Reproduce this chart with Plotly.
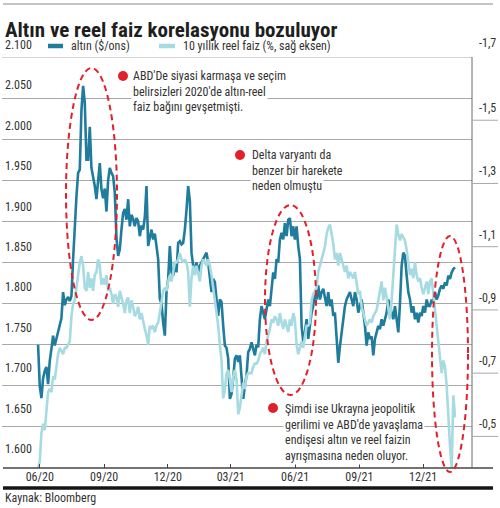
import plotly.graph_objects as go
import pandas as pd

# ---------------- data ----------------
START_DATE = "2020-05-29 14:00"
END_DATE = "2022-01-15 17:00"

gold = [
    1750, 1700, 1685, 1709, 1718, 1723, 1702, 1730, 1745, 1761,
    1749, 1758, 1768, 1775, 1782, 1814, 1798, 1805, 1808, 1803,
    1809, 1854, 1900, 1930, 1959, 1963, 2035, 2065, 2045, 1975,
    1975, 2015, 1965, 1955, 1943, 1927, 1950, 1971, 1939, 1928,
    1940, 1912, 1950, 1965, 1959, 1955, 1935, 1880, 1858, 1866,
    1890, 1910, 1915, 1902, 1927, 1894, 1908, 1903, 1894, 1904,
    1900, 1882, 1895, 1890, 1905, 1943, 1870, 1882, 1890, 1878,
    1885, 1870, 1854, 1806, 1800, 1777, 1761, 1814, 1830, 1870,
    1838, 1834, 1850, 1838, 1874, 1876, 1872, 1874, 1890, 1914,
    1943, 1925, 1862, 1846, 1842, 1850, 1838, 1846, 1850, 1854,
    1858, 1862, 1850, 1834, 1814, 1830, 1826, 1805, 1785, 1805,
    1802, 1773, 1749, 1746, 1733, 1684, 1690, 1709, 1733, 1737,
    1729, 1737, 1709, 1684, 1700, 1713, 1741, 1745, 1753, 1745,
    1737, 1750, 1747, 1781, 1797, 1789, 1781, 1793, 1805, 1797,
    1814, 1838, 1830, 1854, 1850, 1878, 1886, 1878, 1898, 1882,
    1902, 1904, 1882, 1894, 1878, 1894, 1870, 1854, 1773, 1753,
    1765, 1781, 1757, 1773, 1789, 1797, 1814, 1805, 1822, 1805,
    1814, 1818, 1805, 1797, 1814, 1797, 1805, 1785, 1789, 1761,
    1728, 1748, 1765, 1777, 1797, 1805, 1810, 1814, 1805, 1797,
    1814, 1805, 1789, 1797, 1805, 1789, 1773, 1749, 1765, 1757,
    1760, 1737, 1757, 1765, 1773, 1769, 1781, 1773, 1781, 1789,
    1805, 1797, 1789, 1781, 1797, 1777, 1765, 1800, 1846, 1862,
    1858, 1834, 1814, 1805, 1789, 1797, 1781, 1789, 1777, 1789,
    1785, 1797, 1789, 1805, 1797, 1797, 1805, 1801, 1814, 1805,
    1810, 1818, 1822, 1818, 1826, 1822, 1834, 1830, 1838, 1842, 1844,
]

real_yield = [
    -0.40, -0.42, -0.51, -0.54, -0.52, -0.58, -0.64, -0.65, -0.64, -0.69,
    -0.68, -0.72, -0.76, -0.78, -0.77, -0.76, -0.78, -0.78, -0.79, -0.80,
    -0.88, -0.92, -0.93, -0.97, -1.01, -1.05, -1.07, -1.04, -0.97, -0.96,
    -1.02, -0.97, -1.00, -0.96, -1.01, -1.02, -1.06, -1.04, -0.98, -1.00,
    -0.98, -1.01, -0.96, -0.97, -0.95, -0.92, -0.95, -0.94, -0.91, -0.96,
    -0.94, -0.92, -0.89, -0.93, -0.94, -0.89, -0.93, -0.91, -0.88, -0.89,
    -0.91, -0.87, -0.89, -0.86, -0.84, -0.82, -0.79, -0.85, -0.84, -0.85,
    -0.83, -0.85, -0.86, -0.89, -0.93, -0.96, -0.97, -0.96, -0.99, -1.01,
    -0.99, -1.02, -1.05, -1.05, -1.06, -1.08, -1.06, -1.05, -1.06, -1.05,
    -1.02, -0.91, -1.00, -1.04, -1.01, -1.04, -1.01, -0.99, -1.04, -1.06,
    -1.05, -1.04, -1.06, -1.04, -1.01, -0.97, -0.93, -0.89, -0.85, -0.79,
    -0.74, -0.62, -0.65, -0.70, -0.71, -0.68, -0.64, -0.69, -0.71, -0.68,
    -0.57, -0.59, -0.64, -0.67, -0.65, -0.69, -0.70, -0.70, -0.70, -0.72,
    -0.73, -0.73, -0.74, -0.76, -0.77, -0.78, -0.76, -0.80, -0.82, -0.84,
    -0.87, -0.86, -0.88, -0.87, -0.85, -0.89, -0.86, -0.84, -0.87, -0.85,
    -0.83, -0.87, -0.85, -0.89, -0.87, -0.79, -0.76, -0.78, -0.80, -0.78,
    -0.81, -0.85, -0.85, -0.86, -0.93, -0.95, -0.96, -0.97, -1.02, -1.04,
    -1.06, -1.08, -1.10, -1.14, -1.16, -1.17, -1.14, -1.11, -1.06, -1.08,
    -1.04, -1.08, -1.06, -1.04, -1.02, -1.04, -1.00, -1.02, -1.01, -1.00,
    -1.02, -0.98, -0.95, -0.96, -0.91, -0.89, -0.87, -0.85, -0.86, -0.87,
    -0.86, -0.88, -0.89, -0.90, -0.93, -0.96, -0.99, -0.93, -0.97, -0.94,
    -0.90, -0.87, -0.93, -1.02, -1.11, -1.17, -1.14, -1.12, -1.14, -1.13,
    -1.12, -1.09, -1.05, -1.01, -1.03, -1.00, -1.05, -1.01, -0.99, -1.00,
    -0.97, -0.95, -0.97, -0.99, -0.95, -0.99, -1.00, -0.95, -0.91, -0.86,
    -0.80, -0.74, -0.70, -0.74, -0.72, -0.66, -0.55, -0.47, -0.40, -0.63, -0.56,
]

dates = pd.date_range(START_DATE, END_DATE, periods=len(gold))

x_tick_vals = ["2020-06-01", "2020-09-01", "2020-12-01", "2021-03-01",
               "2021-06-01", "2021-09-01", "2021-12-01"]
x_tick_text = ["06/20", "09/20", "12/20", "03/21", "06/21", "09/21", "12/21"]

left_ticks = [2100, 2050, 2000, 1950, 1900, 1850, 1800, 1750, 1700, 1650, 1600]
left_tick_text = ["2.100", "2.050", "2.000", "1.950", "1.900", "1.850",
                  "1.800", "1.750", "1.700", "1.650", "1.600"]
right_ticks = [-1.7, -1.5, -1.3, -1.1, -0.9, -0.7, -0.5]
right_tick_text = ["-1,7", "-1,5", "-1,3", "-1,1", "-0,9", "-0,7", "-0,5"]

title_text = "Altın ve reel faiz korelasyonu bozuluyor"
gold_name = "altın ($/ons)"
real_name = "10 yıllık reel faiz (%, sağ eksen)"
source_text = "Kaynak: Bloomberg"
note1 = ["ABD'De siyasi karmaşa ve seçim", "belirsizleri 2020'de altın-reel",
         "faiz bağını gevşetmişti."]
note2 = ["Delta varyantı da", "benzer bir harekete", "neden olmuştu"]
note3 = ["Şimdi ise Ukrayna jeopolitik", "gerilimi ve ABD'de yavaşlama",
         "endişesi altın ve reel faizin", "ayrışmasına neden oluyor."]

# ---------------- style ----------------
FONT = "Liberation Sans Narrow, Roboto Condensed, Roboto, Arial Narrow, sans-serif"
GOLD_C = "#1f7c9c"
REAL_C = "#a6dbe1"
RED = "#e2202c"
TXT = "#333333"

W, H = 500, 508
L, R, T, B = 2, 28, 57, 40
PW, PH = W - L - R, H - T - B


def px(xp):   # pixel x -> paper
    return (xp - L) / PW


def py(yp):   # pixel y -> paper
    return (H - B - yp) / PH


fig = go.Figure()
fig.add_trace(go.Scatter(x=dates, y=real_yield, name=real_name, yaxis="y2",
                         mode="lines", line=dict(color=REAL_C, width=2.6)))
fig.add_trace(go.Scatter(x=dates, y=gold, name=gold_name, yaxis="y",
                         mode="lines", line=dict(color=GOLD_C, width=2.6)))

fig.update_layout(
    width=W, height=H,
    margin=dict(l=L, r=R, t=T, b=B),
    paper_bgcolor="white", plot_bgcolor="white",
    showlegend=False,
    font=dict(family=FONT, size=12, color=TXT),
    xaxis=dict(type="date", range=["2020-04-08", "2022-02-09"],
               tickvals=x_tick_vals, ticktext=x_tick_text,
               ticks="inside", ticklen=4, tickcolor="#444", tickwidth=1,
               showgrid=False, zeroline=False, showline=False,
               tickfont=dict(size=12, color=TXT, family=FONT)),
    yaxis=dict(range=[1600, 2100], tick0=1600, dtick=50,
               showgrid=True, gridcolor="#a9a9a9", gridwidth=1,
               showticklabels=False, zeroline=False, ticks=""),
    yaxis2=dict(overlaying="y", side="right", range=[-0.4, -1.7],
                showgrid=False, showticklabels=False, zeroline=False, ticks=""),
)

shapes = []
# top thin rule
shapes.append(dict(type="line", xref="paper", yref="paper", x0=px(3), x1=px(493),
                   y0=py(4), y1=py(4), line=dict(color="#8a8a8a", width=1)))
# top gridline (2.100)
shapes.append(dict(type="line", xref="paper", yref="y", x0=0, x1=1,
                   y0=2100, y1=2100, line=dict(color="#a9a9a9", width=1)))
# x axis line
shapes.append(dict(type="line", xref="paper", yref="paper", x0=px(3), x1=px(493),
                   y0=0, y1=0, line=dict(color="#444", width=1.3)))
# right axis line
shapes.append(dict(type="line", xref="paper", yref="paper", x0=1, x1=1,
                   y0=0, y1=1, line=dict(color="#6a6a6a", width=1)))
# right axis tick lines
for v in right_ticks[1:]:
    shapes.append(dict(type="line", xref="paper", yref="y2", x0=1, x1=px(498),
                       y0=v, y1=v, line=dict(color="#a9a9a9", width=1)))
# thick bottom rule
shapes.append(dict(type="line", xref="paper", yref="paper", x0=px(3), x1=px(493),
                   y0=py(488), y1=py(488), line=dict(color="#151515", width=3.5)))
# legend swatches
shapes.append(dict(type="line", xref="paper", yref="paper", x0=px(48), x1=px(63),
                   y0=py(46), y1=py(46), line=dict(color=GOLD_C, width=4.5)))
shapes.append(dict(type="line", xref="paper", yref="paper", x0=px(159), x1=px(175),
                   y0=py(46), y1=py(46), line=dict(color=REAL_C, width=4.5)))
# red dashed ellipses
for (xa, xb, ya, yb) in [(66, 117, 68, 320), (265, 316, 205, 395), (432, 468, 236, 472)]:
    shapes.append(dict(type="circle", xref="paper", yref="paper",
                       x0=px(xa), x1=px(xb), y0=py(yb), y1=py(ya),
                       line=dict(color=RED, width=2, dash="6px,4px")))
fig.update_layout(shapes=shapes)

ann = []
ann.append(dict(text=title_text, xref="paper", yref="paper", x=px(3), y=py(30),
                xanchor="left", yanchor="middle", showarrow=False,
                font=dict(family=FONT, size=21, color="#1e1e1e", weight=700)))
for v, t in zip(left_ticks, left_tick_text):
    ann.append(dict(text=t, xref="paper", yref="y", x=px(3), y=v,
                    xanchor="left", yanchor="bottom", yshift=3 + (2100 - v) / 500 * 7,
                    showarrow=False, font=dict(family=FONT, size=12, color=TXT)))
for v, t in zip(right_ticks, right_tick_text):
    ann.append(dict(text=t, xref="paper", yref="y2", x=px(498), y=v,
                    xanchor="right", yanchor="bottom", yshift=3 if v != -1.7 else 5,
                    showarrow=False, font=dict(family=FONT, size=12, color=TXT)))
ann.append(dict(text=gold_name, xref="paper", yref="paper", x=px(69), y=py(46),
                xanchor="left", yanchor="middle", showarrow=False,
                font=dict(family=FONT, size=12, color=TXT)))
ann.append(dict(text=real_name, xref="paper", yref="paper", x=px(181), y=py(46),
                xanchor="left", yanchor="middle", showarrow=False,
                font=dict(family=FONT, size=12, color=TXT)))
ann.append(dict(text=source_text, xref="paper", yref="paper", x=px(3), y=py(498),
                xanchor="left", yanchor="middle", showarrow=False,
                font=dict(family=FONT, size=12, color=TXT)))
# notes: one annotation per line, white background masks the gridlines
for lines, lx, y_first in [(note1, 131, 76), (note2, 250, 155), (note3, 283, 409)]:
    for k, line_text in enumerate(lines):
        ann.append(dict(text=line_text, xref="paper", yref="paper",
                        x=px(lx), y=py(y_first + k * 15.7),
                        xanchor="left", yanchor="middle", align="left", showarrow=False,
                        bgcolor="white", borderpad=1,
                        font=dict(family=FONT, size=12, color=TXT)))
fig.update_layout(annotations=ann)

# red dots (drawn on top of the note backgrounds)
for (cx, cy) in [(123, 76), (240, 155), (273, 408)]:
    fig.add_shape(type="circle", xref="paper", yref="paper",
                  xsizemode="pixel", ysizemode="pixel",
                  xanchor=px(cx), yanchor=py(cy),
                  x0=-5, x1=5, y0=-5, y1=5,
                  fillcolor=RED, line=dict(color=RED, width=0))

fig.write_html("out.html",
               config={"displayModeBar": False},
               post_script="document.body.style.margin='0';document.body.style.overflow='hidden';")
